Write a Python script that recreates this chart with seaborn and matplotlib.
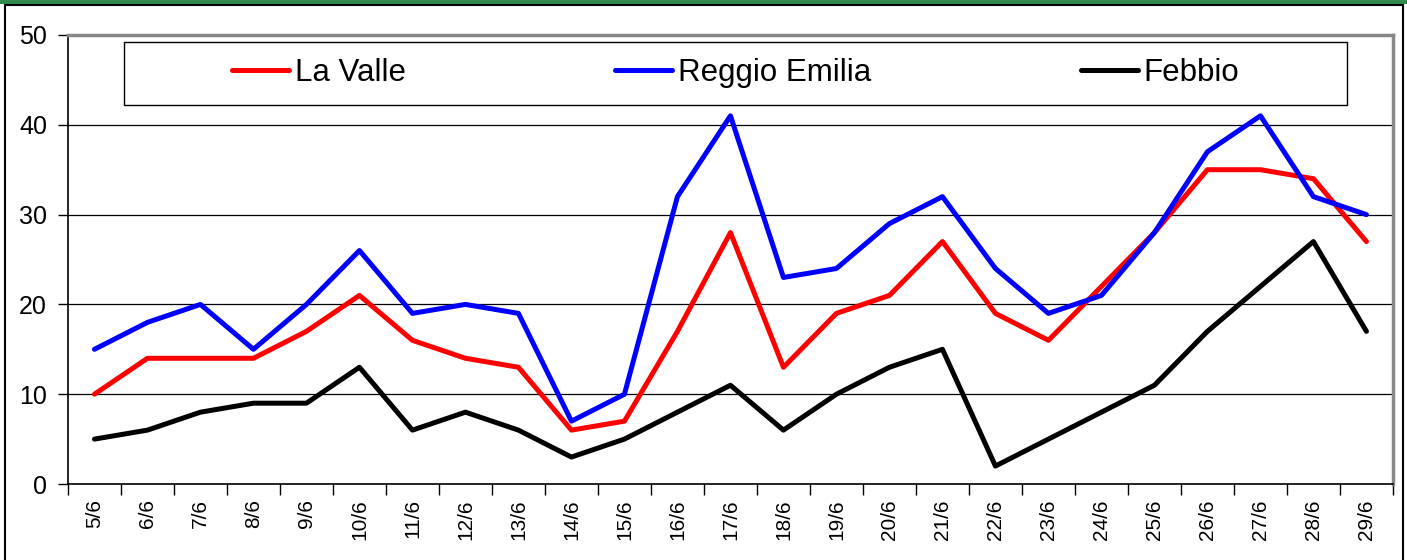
import numpy as np
import pandas as pd
import matplotlib
matplotlib.use("Agg")
import matplotlib.pyplot as plt
from matplotlib.patches import Rectangle
import seaborn as sns

# ── Data ──────────────────────────────────────────────────────────────
dates = ["5/6", "6/6", "7/6", "8/6", "9/6", "10/6", "11/6", "12/6", "13/6",
         "14/6", "15/6", "16/6", "17/6", "18/6", "19/6", "20/6", "21/6",
         "22/6", "23/6", "24/6", "25/6", "26/6", "27/6", "28/6", "29/6"]
la_valle = [10, 14, 14, 14, 17, 21, 16, 14, 13, 6, 7, 17, 28, 13, 19, 21, 27,
            19, 16, 22, 28, 35, 35, 34, 27]
reggio_emilia = [15, 18, 20, 15, 20, 26, 19, 20, 19, 7, 10, 32, 41, 23, 24, 29,
                 32, 24, 19, 21, 28, 37, 41, 32, 30]
febbio = [5, 6, 8, 9, 9, 13, 6, 8, 6, 3, 5, 8, 11, 6, 10, 13, 15, 2, 5, 8, 11,
          17, 22, 27, 17]
series_names = ["La Valle", "Reggio Emilia", "Febbio"]
y_ticks = [0, 10, 20, 30, 40, 50]

COLORS = {"La Valle": "#ff0000", "Reggio Emilia": "#0000ff", "Febbio": "#000000"}

sns.set_theme(style="white")
plt.rcParams["font.family"] = ["Liberation Sans", "DejaVu Sans"]
plt.rcParams["text.color"] = "black"
plt.rcParams["xtick.color"] = "black"
plt.rcParams["ytick.color"] = "black"
plt.rcParams["xtick.labelcolor"] = "black"
plt.rcParams["ytick.labelcolor"] = "black"

df = pd.DataFrame({
    "pos": list(range(len(dates))) * 3,
    "value": la_valle + reggio_emilia + febbio,
    "site": np.repeat(series_names, len(dates)),
})

fig = plt.figure(figsize=(14.07, 5.6), dpi=100)
ax = fig.add_axes([0.0483, 0.1357, 0.9417, 0.8018])

sns.lineplot(data=df, x="pos", y="value", hue="site", hue_order=series_names,
             palette=COLORS, linewidth=3.6, ax=ax, legend=True, zorder=3)

# axes styling, Excel look
ax.set_xlim(-0.5, len(dates) - 0.5)
ax.set_ylim(0, 50)
ax.set_yticks(y_ticks)
ax.set_yticklabels([str(v) for v in y_ticks], fontsize=18)
ax.set_xticks(range(len(dates)))
ax.set_xticklabels(dates, rotation=90, fontsize=15)
ax.set_xticks(np.arange(-0.5, len(dates), 1.0), minor=True)
ax.tick_params(axis="x", which="major", length=0, pad=11)
ax.tick_params(axis="x", which="minor", length=8, width=1, color="black",
               direction="out", bottom=True)
ax.tick_params(axis="y", length=7, width=1, color="black", direction="out",
               left=True, pad=8)
ax.set_xlabel("")
ax.set_ylabel("")

for v in y_ticks[1:-1]:
    ax.axhline(v, color="black", linewidth=0.9, zorder=1)

ax.spines["left"].set_color("black")
ax.spines["left"].set_linewidth(1.2)
ax.spines["bottom"].set_color("black")
ax.spines["bottom"].set_linewidth(1.2)
ax.spines["top"].set_color("#888888")
ax.spines["top"].set_linewidth(2.5)
ax.spines["right"].set_color("#888888")
ax.spines["right"].set_linewidth(2.5)

# legend: frameless entries in a separate box
handles, labels = ax.get_legend_handles_labels()
ax.legend(handles, labels, ncol=3, frameon=False, fontsize=22.5,
          loc="center", bbox_to_anchor=(0.504, 0.915),
          handlelength=1.82, handletextpad=0.19, columnspacing=6.7)
for h in ax.get_legend().get_lines():
    h.set_linewidth(3.6)
    h.set_solid_capstyle("round")
for t in ax.get_legend().get_texts():
    t.set_color("black")
ax.add_patch(Rectangle((0.042, 0.844), 0.923, 0.140, transform=ax.transAxes,
                       facecolor="white", edgecolor="black", linewidth=1.0,
                       zorder=4))
ax.get_legend().set_zorder(5)

# outer frame and green band at the top
fig.patches.append(Rectangle((0, 1 - 4 / 560), 1, 4 / 560, transform=fig.transFigure,
                             facecolor="#2f8a4f", edgecolor="none", zorder=0))
fig.patches.append(Rectangle((5 / 1407, -0.02), 1398 / 1407, 1.02 - 5 / 560,
                             transform=fig.transFigure, facecolor="none",
                             edgecolor="black", linewidth=1.5, zorder=1))

fig.savefig("out.png", dpi=100)
plt.close(fig)
